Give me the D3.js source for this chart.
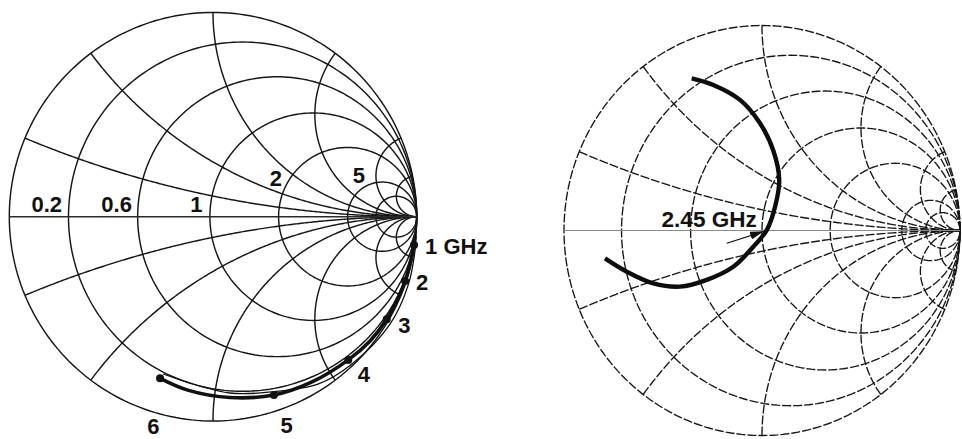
<!DOCTYPE html>
<html><head><meta charset="utf-8">
<script src="https://cdn.jsdelivr.net/npm/d3@7"></script>
<style>html,body{margin:0;padding:0;background:#fff;overflow:hidden;} svg{display:block;}</style>
</head><body>
<svg id="chart" width="962" height="439"></svg>
<script>
// ---------------- data ----------------
// Smith-chart grid values (normalized resistance / reactance)
const leftResistances  = [0, 0.17, 0.46, 0.97, 1.95, 4.9, 9];
const leftReactances   = [0.2, 0.5, 1, 2, 5, 10];
const rightResistances = [0, 0.17, 0.47, 1, 2.05, 5.8, 10.5];
const rightReactances  = [0.2, 0.5, 1, 2, 5, 10];
const resistanceLabels = ["0.2", "0.6", "1", "2", "5"];

// Left chart: frequency markers (reflection coefficient, 1..6 GHz)
const freqLabels = ["1 GHz", "2", "3", "4", "5", "6"];
const markerRe = [0.987, 0.943, 0.853, 0.664, 0.299, -0.260];
const markerIm = [-0.139, -0.315, -0.502, -0.701, -0.873, -0.791];

// Left chart: measured trace (thick) and simulated trace (thin)
const measuredRe = [0.992, 0.987, 0.943, 0.903, 0.853, 0.771, 0.664, 0.486, 0.299, 0.083, -0.120, -0.260];
const measuredIm = [-0.099, -0.139, -0.315, -0.408, -0.502, -0.608, -0.701, -0.809, -0.873, -0.885, -0.850, -0.791];
const simulatedRe = [0.997, 0.960, 0.869, 0.682, 0.515, 0.299, 0.083, -0.245];
const simulatedIm = [-0.124, -0.329, -0.526, -0.721, -0.820, -0.856, -0.863, -0.770];

// Right chart: sweep trace around 2.45 GHz
const sweepRe = [-0.355, -0.246, -0.111, -0.010, 0.057, 0.087, 0.066, 0.024, -0.044, -0.145, -0.279, -0.414, -0.549, -0.683, -0.793];
const sweepIm = [0.742, 0.710, 0.637, 0.523, 0.390, 0.246, 0.116, 0.002, -0.079, -0.177, -0.241, -0.274, -0.258, -0.201, -0.136];
const sweepLabel = "2.45 GHz";
const arrowRe = [-0.178, 0.010];
const arrowIm = [-0.062, -0.004];

// ---------------- rendering ----------------
const svg = d3.select("#chart");
const FONT = "'Liberation Sans', Arial, Helvetica, sans-serif";

svg.append("defs").append("marker")
  .attr("id", "ah").attr("viewBox", "0 0 10 10").attr("refX", 10).attr("refY", 5)
  .attr("markerWidth", 14).attr("markerHeight", 8).attr("markerUnits", "userSpaceOnUse")
  .attr("orient", "auto").attr("preserveAspectRatio", "none")
  .append("path").attr("d", "M0,0 L10,5 L0,10 Z").attr("fill", "#111");

function resistancePts(r) {
  const c = r / (1 + r), rad = 1 / (1 + r);
  return d3.range(0, 361, 1.5).map(a => [c + rad * Math.cos(a * Math.PI / 180), rad * Math.sin(a * Math.PI / 180)]);
}
function reactancePts(x) {
  const a = Math.abs(x), s = Math.sign(x);
  const cx = 1, cy = 1 / a, rad = 1 / a;
  const p0x = (a * a - 1) / (a * a + 1), p0y = 2 * a / (a * a + 1);
  const t0 = Math.atan2(p0y - cy, p0x - cx);
  let t1 = -Math.PI / 2;
  while (t1 < t0) t1 += 2 * Math.PI;
  const n = 240;
  return d3.range(n + 1).map(i => {
    const t = t0 + (t1 - t0) * i / n;
    return [cx + rad * Math.cos(t), s * (cy + rad * Math.sin(t))];
  });
}

function drawGrid(g, xs, ys, resistances, reactances, style) {
  const line = d3.line().x(d => xs(d[0])).y(d => ys(d[1]));
  const grid = g.append("g").attr("fill", "none").attr("stroke", style.color)
    .attr("stroke-width", style.width).attr("stroke-dasharray", style.dash);
  resistances.forEach(r => grid.append("path").attr("d", line(resistancePts(r))));
  reactances.forEach(x => {
    grid.append("path").attr("d", line(reactancePts(x)));
    grid.append("path").attr("d", line(reactancePts(-x)));
  });
  g.append("line").attr("x1", xs(-1)).attr("x2", xs(1)).attr("y1", ys(0)).attr("y2", ys(0))
    .attr("stroke", style.axisColor).attr("stroke-width", style.axisWidth);
}

// ---- left chart ----
const lx = d3.scaleLinear().domain([-1, 1]).range([9.3, 416.7]);
const ly = d3.scaleLinear().domain([-1, 1]).range([421, 12.4]);
const gL = svg.append("g");
drawGrid(gL, lx, ly, leftResistances, leftReactances,
  {color: "#161616", width: 1.45, dash: null, axisColor: "#2a2a2a", axisWidth: 1.5});

// resistance labels (end-anchored)
const resLabelPos = [[-0.741, 0.023], [-0.398, 0.023], [-0.052, 0.023], [0.339, 0.150], [0.746, 0.165]];
gL.selectAll("text.rl").data(resistanceLabels).join("text").attr("class", "rl")
  .attr("x", (d, i) => lx(resLabelPos[i][0])).attr("y", (d, i) => ly(resLabelPos[i][1]))
  .attr("text-anchor", "end").attr("font-family", FONT).attr("font-weight", "bold")
  .attr("font-size", 22).attr("fill", "#111").text(d => d);

// traces
const lineL = d3.line().curve(d3.curveCatmullRom.alpha(0.5));
const measured = measuredRe.map((v, i) => [lx(v), ly(measuredIm[i])]);
const simulated = simulatedRe.map((v, i) => [lx(v), ly(simulatedIm[i])]);
gL.append("path").attr("d", lineL(simulated)).attr("fill", "none").attr("stroke", "#111").attr("stroke-width", 1.3);
gL.append("path").attr("d", lineL(measured)).attr("fill", "none").attr("stroke", "#111").attr("stroke-width", 3.6)
  .attr("stroke-linecap", "round");
gL.selectAll("circle.mk").data(markerRe).join("circle").attr("class", "mk")
  .attr("cx", d => lx(d)).attr("cy", (d, i) => ly(markerIm[i])).attr("r", 4).attr("fill", "#111");

// frequency labels: pixel offsets from their markers
const freqLabelOffsets = [[11, 8.5], [11, 9], [11.6, 13.4], [9.4, 22], [6.7, 37.7], [-12.7, 55.5]];
gL.selectAll("text.fl").data(freqLabels).join("text").attr("class", "fl")
  .attr("x", (d, i) => lx(markerRe[i]) + freqLabelOffsets[i][0])
  .attr("y", (d, i) => ly(markerIm[i]) + freqLabelOffsets[i][1])
  .attr("font-family", FONT).attr("font-weight", "bold").attr("font-size", 22).attr("fill", "#111")
  .text(d => d);

// ---- right chart ----
const rx = d3.scaleLinear().domain([-1, 1]).range([564, 960]);
const ry = d3.scaleLinear().domain([-1, 1]).range([435.5, 25.5]);
const gR = svg.append("g");
drawGrid(gR, rx, ry, rightResistances, rightReactances,
  {color: "#161616", width: 1.35, dash: "9,2", axisColor: "#8a8a8a", axisWidth: 1.1});

const sweep = sweepRe.map((v, i) => [rx(v), ry(sweepIm[i])]);
gR.append("path").attr("d", lineL(sweep)).attr("fill", "none").attr("stroke", "#0d0d0d")
  .attr("stroke-width", 4.4).attr("stroke-linecap", "butt");

gR.append("line")
  .attr("x1", rx(arrowRe[0])).attr("y1", ry(arrowIm[0]))
  .attr("x2", rx(arrowRe[1])).attr("y2", ry(arrowIm[1]))
  .attr("stroke", "#111").attr("stroke-width", 1.2).attr("marker-end", "url(#ah)");

gR.append("text").attr("x", rx(-0.507)).attr("y", ry(0.019))
  .attr("font-family", FONT).attr("font-weight", "bold").attr("font-size", 22.5)
  .attr("fill", "#111").text(sweepLabel);
</script>
</body></html>
